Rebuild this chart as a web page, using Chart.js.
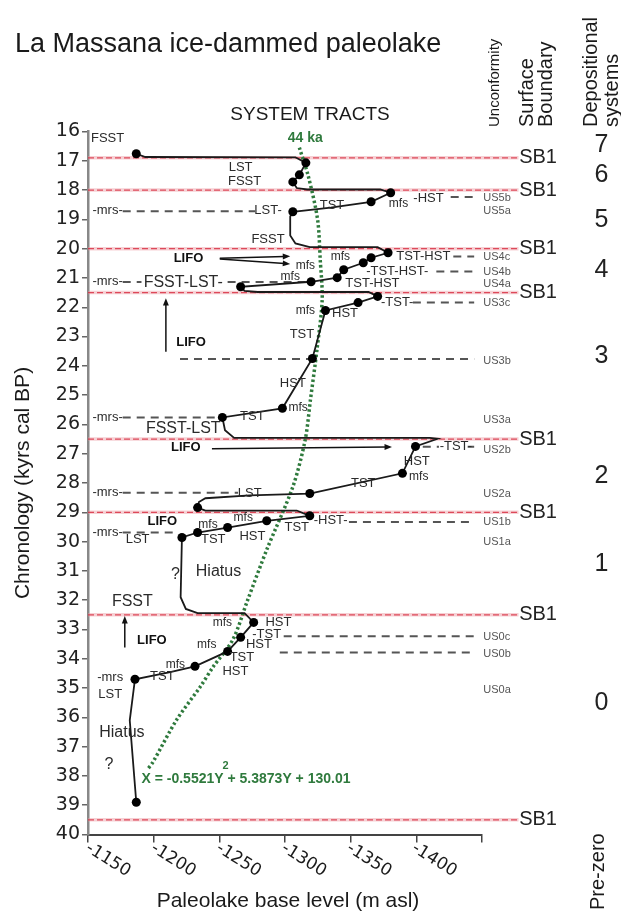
<!DOCTYPE html>
<html lang="en">
<head>
<meta charset="UTF-8">
<title>La Massana ice-dammed paleolake</title>
<script src="https://cdn.jsdelivr.net/npm/chart.js"></script>
<style>
  body { margin: 0; background: #fff; }
  canvas { display: block; }
</style>
</head>
<body>
<canvas id="lakeChart" width="621" height="916"></canvas>
<script>
// x = paleolake base level (m asl), y = age (kyrs cal BP)
const xTicks = [-1150, -1200, -1250, -1300, -1350, -1400];

// sequence boundaries (SB1)
const sbLevels = [16.9, 18.0, 20.0, 21.5, 26.5, 29.0, 32.5, 39.5];

// base level curve (black line)
const pathX = [-1185, -1192, -1307, -1315, -1310, -1305, -1308, -1316, -1372, -1380, -1365, -1334, -1305, -1303, -1303, -1307, -1318, -1370,
  -1378, -1365, -1359, -1344, -1339, -1319, -1265, -1268, -1278, -1363, -1370, -1355, -1330, -1320, -1297, -1251, -1253, -1260,
  -1410, -1416, -1399, -1389, -1318, -1272, -1238, -1233, -1232, -1238, -1308, -1318, -1285, -1255, -1232, -1220, -1219, -1223,
  -1232, -1268, -1275, -1265, -1255, -1230, -1211, -1184, -1180, -1185];
const pathY = [16.76, 16.87, 16.88, 17.07, 17.48, 17.72, 17.93, 17.98, 17.98, 18.09, 18.40, 18.60, 18.74, 18.90, 19.55, 19.82, 19.95, 19.95,
  20.14, 20.31, 20.48, 20.72, 20.99, 21.13, 21.30, 21.44, 21.48, 21.48, 21.63, 21.84, 22.11, 23.75, 25.45, 25.76, 26.20, 26.46,
  26.46, 26.49, 26.75, 27.67, 28.36, 28.42, 28.52, 28.65, 28.84, 28.94, 28.94, 29.12, 29.29, 29.52, 29.69, 29.86, 31.90, 32.30,
  32.44, 32.44, 32.76, 33.27, 33.75, 34.26, 34.46, 34.70, 36.10, 38.90];

// dated levels (black dots)
const dotX = [-1185, -1315, -1310, -1305, -1380, -1365, -1305, -1378, -1365, -1359, -1344, -1339, -1319, -1265, -1370, -1355, -1330,
  -1320, -1297, -1251, -1399, -1389, -1318, -1232, -1318, -1285, -1255, -1232, -1220, -1275, -1265, -1255, -1230, -1184, -1185];
const dotY = [16.76, 17.07, 17.48, 17.72, 18.09, 18.40, 18.74, 20.14, 20.31, 20.48, 20.72, 20.99, 21.13, 21.30, 21.63, 21.84, 22.11,
  23.75, 25.45, 25.76, 26.75, 27.67, 28.36, 28.84, 29.12, 29.29, 29.52, 29.69, 29.86, 32.76, 33.27, 33.75, 34.26, 34.70, 38.90];

// 44 ka regression (green dotted)
const fitX = [-1310, -1317, -1324, -1326, -1327.5, -1323.5, -1318.5, -1314.5, -1305, -1285, -1270.5, -1259, -1244, -1234, -1216, -1197.5, -1194];
const fitY = [16.55, 17.55, 19.01, 20.38, 21.74, 23.45, 25.16, 26.52, 28.13, 30.28, 31.98, 33.35, 34.27, 34.96, 36.08, 37.55, 37.75];

// unit surfaces (grey dashed): level, from, to
const usSegY    = [18.72, 18.24, 20.27, 20.78, 21.14, 21.14, 21.84, 23.77, 25.76, 26.76, 26.76, 28.33, 29.33, 29.69, 33.23, 33.79];
const usSegFrom = [-1174.6, -1426, -1428, -1415, -1174.6, -1255, -1397, -1218.5, -1174.6, -1404.6, -1439, -1174.6, -1348, -1174.6, -1298, -1295];
const usSegTo   = [-1276, -1444, -1444, -1444, -1189, -1315, -1444, -1444, -1249, -1417, -1444, -1263, -1444, -1217, -1444, -1444];

// LIFO arrows: x1, y1, x2, y2
const arrows = [
  [-1249, 20.33, -1303, 20.26],
  [-1249, 20.35, -1303, 20.52],
  [-1207.7, 23.52, -1207.7, 21.69],
  [-1243, 26.83, -1381, 26.77],
  [-1176.2, 33.62, -1176.2, 32.54]
];

const tractLabels = [
  ['FSST', -1163, 16.22], ['LST', -1265, 17.24], ['FSST', -1268, 17.69], ['-mrs-', -1163, 18.71], ['LST-', -1286, 18.71],
  ['TST', -1335, 18.51], ['-HST', -1409, 18.27], ['FSST', -1286, 19.7], ['TST-HST', -1405, 20.28], ['-TST-HST-', -1385, 20.76],
  ['TST-HST', -1366, 21.17], ['-mrs-', -1163, 21.13], ['-TST-', -1385, 21.85], ['HST', -1345, 22.22], ['TST', -1312, 22.94],
  ['HST', -1305, 24.61], ['TST', -1274, 25.73], ['-mrs-', -1163, 25.76], ['-TST-', -1430, 26.76], ['HST', -1400, 27.27],
  ['TST', -1359, 28.02], ['-mrs-', -1163, 28.33], ['LST', -1272, 28.36], ['HST', -1274, 29.83], ['TST', -1244, 29.93],
  ['TST', -1308, 29.52], ['-HST-', -1334, 29.28], ['-mrs-', -1163, 29.69], ['LST', -1186, 29.93], ['HST', -1294, 32.76],
  ['-TST', -1285, 33.17], ['HST', -1279, 33.51], ['TST', -1266, 33.95], ['HST', -1261, 34.43], ['TST', -1205, 34.6],
  ['-mrs', -1165, 34.63], ['LST', -1165, 35.21]
];
const mfsLabels = [
  ['mfs', -1386, 18.47], ['mfs', -1341.5, 20.28], ['mfs', -1314.6, 20.59], ['mfs', -1303, 20.96], ['mfs', -1314.6, 22.12],
  ['mfs', -1309, 25.43], ['mfs', -1401.5, 27.78], ['mfs', -1267, 29.18], ['mfs', -1240, 29.42], ['mfs', -1251, 32.76],
  ['mfs', -1239, 33.51], ['mfs', -1215, 34.19]
];
const bigLabels = [
  ['FSST-LST-', -1221, 21.17], ['FSST-LST', -1221, 26.14], ['?', -1215, 31.12], ['Hiatus', -1248, 31.02],
  ['FSST', -1182, 32.04], ['Hiatus', -1174, 36.51], ['?', -1164, 37.6]
];
const lifoLabels = [
  ['LIFO', -1225, 20.35], ['LIFO', -1227, 23.21], ['LIFO', -1223, 26.79], ['LIFO', -1205, 29.32], ['LIFO', -1197, 33.36]
];
const usLabels = [
  ['US5b', 18.28], ['US5a', 18.73], ['US4c', 20.27], ['US4b', 20.78], ['US4a', 21.2], ['US3c', 21.84], ['US3b', 23.83],
  ['US3a', 25.84], ['US2b', 26.86], ['US2a', 28.39], ['US1b', 29.33], ['US1a', 30.0], ['US0c', 33.26], ['US0b', 33.84], ['US0a', 35.05]
];
const depoLabels = [['7', 16.46], ['6', 17.48], ['5', 19.02], ['4', 20.72], ['3', 23.68], ['2', 27.77], ['1', 30.78], ['0', 35.5]];

const sbData = [];
sbLevels.forEach(v => sbData.push({ x: -1148, y: v }, { x: -1478, y: v }, { x: -1478, y: null }));
const usData = [];
usSegY.forEach((v, i) => usData.push({ x: usSegFrom[i], y: v }, { x: usSegTo[i], y: v }, { x: usSegTo[i], y: null }));

const SANS = '"Liberation Sans", Arial, sans-serif';

const annotate = {
  id: 'annotate',
  afterDatasetsDraw(chart) {
    const ctx = chart.ctx;
    const px = v => chart.scales.x.getPixelForValue(v);
    const py = v => chart.scales.y.getPixelForValue(v);
    ctx.save();

    // arrows
    ctx.strokeStyle = '#111';
    ctx.fillStyle = '#111';
    ctx.lineWidth = 1.5;
    arrows.forEach(([x1, y1, x2, y2]) => {
      const ax = px(x1), ay = py(y1), bx = px(x2), by = py(y2);
      const a = Math.atan2(by - ay, bx - ax), h = 8;
      ctx.beginPath();
      ctx.moveTo(ax, ay);
      ctx.lineTo(bx - Math.cos(a) * h * 0.7, by - Math.sin(a) * h * 0.7);
      ctx.stroke();
      ctx.beginPath();
      ctx.moveTo(bx, by);
      ctx.lineTo(bx - h * Math.cos(a - 0.38), by - h * Math.sin(a - 0.38));
      ctx.lineTo(bx - h * Math.cos(a + 0.38), by - h * Math.sin(a + 0.38));
      ctx.closePath();
      ctx.fill();
    });

    ctx.textBaseline = 'middle';
    ctx.textAlign = 'center';
    const put = (list, font, color) => {
      ctx.font = font;
      ctx.fillStyle = color;
      list.forEach(([t, x, y]) => ctx.fillText(t, px(x), py(y)));
    };
    put(tractLabels, '13px ' + SANS, '#2b2b2b');
    put(mfsLabels, '12px ' + SANS, '#2b2b2b');
    put(bigLabels, '16px ' + SANS, '#2b2b2b');
    put(lifoLabels, 'bold 13px ' + SANS, '#111');

    ctx.textAlign = 'left';
    ctx.font = '11px ' + SANS;
    ctx.fillStyle = '#555';
    usLabels.forEach(([t, y]) => ctx.fillText(t, px(-1451), py(y)));

    ctx.font = '20px ' + SANS;
    ctx.fillStyle = '#222';
    sbLevels.forEach(v => ctx.fillText('SB1', px(-1478.5), py(v)));

    ctx.textAlign = 'center';
    ctx.font = '25px ' + SANS;
    depoLabels.forEach(([t, y]) => ctx.fillText(t, px(-1541.5), py(y)));

    // regression label and equation
    ctx.fillStyle = '#2f7a3d';
    ctx.font = 'bold 14px ' + SANS;
    ctx.fillText('44 ka', px(-1314.6), py(16.23));
    ctx.textAlign = 'left';
    const ex = px(-1189), ey = py(38.11);
    const part1 = 'X = -0.5521Y';
    ctx.fillText(part1 + ' + 5.3873Y + 130.01', ex, ey);
    const w1 = ctx.measureText(part1).width;
    ctx.font = 'bold 11px ' + SANS;
    ctx.fillText('2', ex + w1 - 1, ey - 13);
    ctx.restore();
  },
  afterDraw(chart) {
    const ctx = chart.ctx;
    const xs = chart.scales.x;
    ctx.save();
    ctx.fillStyle = '#1a1a1a';

    ctx.textBaseline = 'alphabetic';
    ctx.textAlign = 'left';
    ctx.font = '27px ' + SANS;
    ctx.fillText('La Massana ice-dammed paleolake', 15, 52);
    ctx.textAlign = 'center';
    ctx.font = '19px ' + SANS;
    ctx.fillText('SYSTEM TRACTS', 310, 120);
    ctx.font = '21px ' + SANS;
    ctx.fillText('Paleolake base level (m asl)', 288, 907);

    const vtext = (t, x, y, font, align) => {
      ctx.save();
      ctx.translate(x, y);
      ctx.rotate(-Math.PI / 2);
      ctx.font = font;
      ctx.textAlign = align;
      ctx.textBaseline = 'middle';
      ctx.fillText(t, 0, 0);
      ctx.restore();
    };
    vtext('Unconformity', 494.5, 127, '15px ' + SANS, 'left');
    vtext('Surface', 527.5, 127, '20px ' + SANS, 'left');
    vtext('Boundary', 546.5, 127, '20px ' + SANS, 'left');
    vtext('Depositional', 591.5, 127, '20px ' + SANS, 'left');
    vtext('systems', 612.5, 127, '20px ' + SANS, 'left');
    vtext('Pre-zero', 598.5, 910, '20px ' + SANS, 'left');
    vtext('Chronology (kyrs cal BP)', 23, 483, '21px ' + SANS, 'center');

    // slanted x tick labels
    ctx.font = '17px "DejaVu Sans", sans-serif';
    ctx.textAlign = 'left';
    ctx.textBaseline = 'top';
    xTicks.forEach(v => {
      ctx.save();
      ctx.translate(xs.getPixelForValue(v) + 1, chart.chartArea.bottom + 5);
      ctx.rotate(32 * Math.PI / 180);
      ctx.fillText(String(v), 0, 0);
      ctx.restore();
    });
    ctx.restore();
  }
};

new Chart(document.getElementById('lakeChart'), {
  type: 'scatter',
  data: {
    datasets: [
      {
        data: dotX.map((x, i) => ({ x, y: dotY[i] })),
        pointRadius: 4.5, pointBackgroundColor: '#000', pointBorderWidth: 0, order: 0
      },
      {
        data: pathX.map((x, i) => ({ x, y: pathY[i] })),
        showLine: true, borderColor: '#1a1a1a', borderWidth: 1.8, pointRadius: 0, order: 1
      },
      {
        data: fitX.map((x, i) => ({ x, y: fitY[i] })),
        showLine: true, borderColor: '#2f7a3d', borderWidth: 3.5, borderDash: [2.5, 2.5], tension: 0.3, pointRadius: 0, order: 2
      },
      {
        data: usData,
        showLine: true, borderColor: '#555', borderWidth: 2, borderDash: [8, 6], pointRadius: 0, spanGaps: false, order: 3
      },
      {
        data: sbData,
        showLine: true, borderColor: 'rgba(215, 40, 60, 0.8)', borderWidth: 1.3, borderDash: [6, 3],
        pointRadius: 0, spanGaps: false, clip: false, order: 4
      },
      {
        data: sbData,
        showLine: true, borderColor: 'rgba(235, 150, 160, 0.45)', borderWidth: 3.5,
        pointRadius: 0, spanGaps: false, clip: false, order: 5
      }
    ]
  },
  options: {
    responsive: false,
    animation: false,
    events: [],
    layout: { padding: { left: 0, right: 139, top: 131.5, bottom: 0 } },
    plugins: { legend: { display: false }, tooltip: { enabled: false } },
    scales: {
      x: {
        type: 'linear',
        reverse: true,
        min: -1450,
        max: -1148,
        afterFit: s => { s.height = 81.5; },
        border: { display: true, color: '#444', width: 2 },
        grid: { drawOnChartArea: false, drawTicks: true, tickLength: 8, color: '#444', lineWidth: 1.5 },
        ticks: { display: false, stepSize: 50, includeBounds: false }
      },
      y: {
        type: 'linear',
        reverse: true,
        min: 16,
        max: 40,
        afterFit: s => { s.width = 88; },
        border: { display: true, color: '#888', width: 2.5 },
        grid: { drawOnChartArea: false, drawTicks: true, tickLength: 6, color: '#666', lineWidth: 1.5 },
        ticks: { stepSize: 1, padding: 2, color: '#222', font: { family: '"DejaVu Sans", sans-serif', size: 19 } }
      }
    }
  },
  plugins: [annotate]
});
</script>
</body>
</html>
